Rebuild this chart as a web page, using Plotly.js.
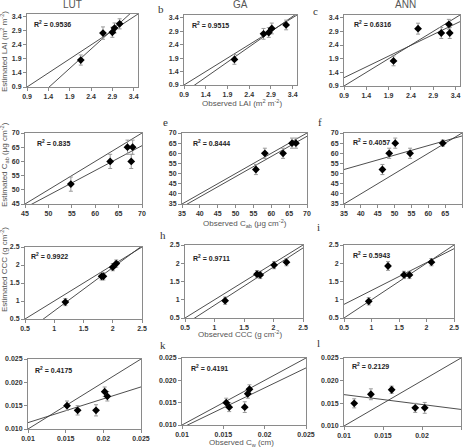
<!DOCTYPE html>
<html>
<head>
<meta charset="utf-8">
<script src="https://cdn.plot.ly/plotly-3.0.1.min.js"></script>
<style>html,body{margin:0;padding:0;background:#fff;}#chart{width:465px;height:447px;}</style>
</head>
<body>
<div id="chart"></div>
<script>
// Observed vs estimated canopy variables for three retrieval methods
const methods = ['LUT', 'GA', 'ANN'];
const rSquared = ['0.9536', '0.9515', '0.6316', '0.835', '0.8444', '0.4057', '0.9922', '0.9711', '0.5943', '0.4175', '0.4191', '0.2129'];

// LAI (m2 m-2)
const lutLaiObs = [2.16, 2.68, 2.90, 2.95, 3.07];
const lutLaiEst = [1.86, 2.82, 2.85, 3.00, 3.15];
const lutLaiErr = [0.18, 0.22, 0.18, 0.18, 0.18];
const gaLaiObs = [2.06, 2.73, 2.85, 2.92, 3.25];
const gaLaiEst = [1.85, 2.80, 2.85, 3.00, 3.13];
const gaLaiErr = [0.18, 0.2, 0.18, 0.2, 0.18];
const annLaiObs = [2.01, 2.56, 3.08, 3.25, 3.27];
const annLaiEst = [1.82, 3.00, 2.84, 3.16, 2.84];
const annLaiErr = [0.18, 0.2, 0.2, 0.18, 0.2];

// Cab (ug cm-2)
const lutCabObs = [54.8, 63.2, 66.9, 68.0, 67.7];
const lutCabEst = [52, 60, 65, 65, 60];
const lutCabErr = [2.5, 2.5, 2.5, 2.5, 2.5];
const gaCabObs = [55.7, 58.2, 63.3, 65.8, 66.9];
const gaCabEst = [52, 60, 60, 65, 65];
const gaCabErr = [2.5, 2.5, 2.5, 2.5, 2.5];
const annCabObs = [46.4, 48.4, 50.2, 54.6, 64.3];
const annCabEst = [52, 60, 65, 60, 65];
const annCabErr = [2.5, 2.5, 2.5, 2.5, 1.5];

// CCC (g cm-2)
const lutCccObs = [1.19, 1.81, 1.84, 2.00, 2.06];
const lutCccEst = [0.97, 1.685, 1.685, 1.94, 2.04];
const lutCccErr = [0.1, 0.1, 0.1, 0.1, 0.1];
const gaCccObs = [1.18, 1.72, 1.775, 2.01, 2.22];
const gaCccEst = [0.975, 1.70, 1.68, 1.95, 2.03];
const gaCccErr = [0.1, 0.1, 0.1, 0.1, 0.1];
const annCccObs = [0.95, 1.30, 1.59, 1.69, 2.09];
const annCccEst = [0.957, 1.925, 1.68, 1.68, 2.03];
const annCccErr = [0.1, 0.12, 0.1, 0.1, 0.1];

// Cw (cm)
const lutCwObs = [0.01518, 0.01659, 0.01903, 0.02018, 0.02053];
const lutCwEst = [0.0150, 0.0140, 0.0140, 0.0180, 0.0170];
const lutCwErr = [0.001, 0.001, 0.0012, 0.001, 0.001];
const gaCwObs = [0.01535, 0.01571, 0.01759, 0.01796, 0.01816];
const gaCwEst = [0.0150, 0.0140, 0.0140, 0.0170, 0.0180];
const gaCwErr = [0.001, 0.001, 0.0012, 0.001, 0.001];
const annCwObs = [0.01131, 0.01345, 0.01611, 0.01913, 0.02035];
const annCwEst = [0.0150, 0.0170, 0.0180, 0.0140, 0.0140];
const annCwErr = [0.001, 0.0012, 0.0008, 0.001, 0.0012];

// tick values / labels per variable row
const laiTicks = [0.9, 1.4, 1.9, 2.4, 2.9, 3.4];
const laiTickText = ['0.9', '1.4', '1.9', '2.4', '2.9', '3.4'];
const cabTicks = [35, 40, 45, 50, 55, 60, 65, 70];
const cabTickText = ['35', '40', '45', '50', '55', '60', '65', '70'];
const cccTicks = [0.5, 1, 1.5, 2, 2.5];
const cccTickText = ['0.5', '1', '1.5', '2', '2.5'];
const cwTicks = [0.01, 0.015, 0.02, 0.025];
const cwXTickText = ['0.01', '0.015', '0.02', '0.025'];
const cwYTickText = ['0.010', '0.015', '0.020', '0.025'];

const W = 465, H = 447;

const panels = [
  {obs: lutLaiObs, est: lutLaiEst, err: lutLaiErr, range: [0.9, 3.5], tv: laiTicks, tt: laiTickText, ytt: laiTickText, box: [27, 138, 14, 87], r2: [0.045, 0.86]},
  {obs: gaLaiObs, est: gaLaiEst, err: gaLaiErr, range: [0.9, 3.5], tv: laiTicks, tt: laiTickText, ytt: laiTickText, box: [184, 297, 15, 85], r2: [0.055, 0.86]},
  {obs: annLaiObs, est: annLaiEst, err: annLaiErr, range: [0.9, 3.5], tv: laiTicks, tt: laiTickText, ytt: laiTickText, box: [344, 460, 15, 86], r2: [0.07, 0.87]},
  {obs: lutCabObs, est: lutCabEst, err: lutCabErr, range: [45, 70], tv: cabTicks, tt: cabTickText, ytt: cabTickText, box: [25, 142, 133, 204], r2: [0.085, 0.86]},
  {obs: gaCabObs, est: gaCabEst, err: gaCabErr, range: [35, 70], tv: cabTicks, tt: cabTickText, ytt: cabTickText, box: [182, 307, 133, 204], r2: [0.07, 0.86]},
  {obs: annCabObs, est: annCabEst, err: annCabErr, range: [35, 70], tv: cabTicks, tt: cabTickText, ytt: cabTickText, box: [344, 462, 133, 204], r2: [0.06, 0.87]},
  {obs: lutCccObs, est: lutCccEst, err: lutCccErr, range: [0.5, 2.5], tv: cccTicks, tt: cccTickText, ytt: cccTickText, box: [25, 142, 247, 319], r2: [0.035, 0.875]},
  {obs: gaCccObs, est: gaCccEst, err: gaCccErr, range: [0.5, 2.5], tv: cccTicks, tt: cccTickText, ytt: cccTickText, box: [185, 303, 245, 318], r2: [0.05, 0.82]},
  {obs: annCccObs, est: annCccEst, err: annCccErr, range: [0.5, 2.5], tv: cccTicks, tt: cccTickText, ytt: cccTickText, box: [344, 454, 245, 318], r2: [0.06, 0.86]},
  {obs: lutCwObs, est: lutCwEst, err: lutCwErr, range: [0.01, 0.025], tv: cwTicks, tt: cwXTickText, ytt: cwYTickText, box: [28, 141, 359, 429], r2: [0.045, 0.84]},
  {obs: gaCwObs, est: gaCwEst, err: gaCwErr, range: [0.01, 0.025], tv: cwTicks, tt: cwXTickText, ytt: cwYTickText, box: [182, 306, 358, 425], r2: [0.056, 0.85]},
  {obs: annCwObs, est: annCwEst, err: annCwErr, range: [0.01, 0.025], tv: cwTicks, tt: cwXTickText, ytt: cwYTickText, box: [344, 461, 358, 426], r2: [0.05, 0.88]}
];

// least-squares fit of estimated on observed
function fit(x, y) {
  const n = x.length;
  const mx = x.reduce((a, b) => a + b, 0) / n;
  const my = y.reduce((a, b) => a + b, 0) / n;
  let sxy = 0, sxx = 0;
  for (let i = 0; i < n; i++) { sxy += (x[i] - mx) * (y[i] - my); sxx += (x[i] - mx) ** 2; }
  const slope = sxy / sxx;
  return {slope: slope, intercept: my - slope * mx};
}

const sans = "'Liberation Sans', Arial, sans-serif";
const traces = [];
const layout = {
  width: W, height: H,
  margin: {l: 0, r: 0, t: 0, b: 0},
  paper_bgcolor: '#fff', plot_bgcolor: '#fff',
  showlegend: false,
  font: {family: sans, color: '#333'},
  annotations: []
};

const lineColor = '#3a3a3a';
const axisCommon = {
  showline: true, mirror: true, linecolor: '#8a8a8a', linewidth: 1,
  ticks: 'outside', ticklen: 3, tickcolor: '#8a8a8a', tickwidth: 1,
  showgrid: false, zeroline: false, fixedrange: true,
  tickfont: {family: sans, size: 7, color: '#333', weight: 'bold'}
};

panels.forEach((p, i) => {
  const k = i === 0 ? '' : String(i + 1);
  const xa = 'x' + k, ya = 'y' + k;
  const [x0, x1, y0, y1] = p.box;
  layout['xaxis' + k] = Object.assign({}, axisCommon, {
    domain: [x0 / W, x1 / W], anchor: ya, range: p.range,
    tickvals: p.tv, ticktext: p.tt
  });
  layout['yaxis' + k] = Object.assign({}, axisCommon, {
    domain: [1 - y1 / H, 1 - y0 / H], anchor: xa, range: p.range,
    tickvals: p.tv, ticktext: p.ytt
  });

  // 1:1 line
  traces.push({x: p.range, y: p.range, xaxis: xa, yaxis: ya, mode: 'lines',
    line: {color: lineColor, width: 0.9}, hoverinfo: 'skip'});
  // regression line
  const f = fit(p.obs, p.est);
  traces.push({x: p.range, y: p.range.map(v => f.intercept + f.slope * v), xaxis: xa, yaxis: ya,
    mode: 'lines', line: {color: lineColor, width: 0.9}, hoverinfo: 'skip'});
  // points with error bars
  traces.push({x: p.obs, y: p.est, xaxis: xa, yaxis: ya, mode: 'markers',
    marker: {symbol: 'diamond', size: 6, color: '#000'},
    error_y: {type: 'data', array: p.err, visible: true, color: '#9a9a9a', thickness: 1, width: 2}});

  layout.annotations.push({
    xref: xa + ' domain', yref: ya + ' domain', x: p.r2[0], y: p.r2[1],
    xanchor: 'left', yanchor: 'middle', showarrow: false,
    text: 'R<sup>2</sup> = ' + rSquared[i],
    font: {family: sans, size: 7, color: '#222', weight: 'bold'}
  });
});

function paperText(text, px, py, opts) {
  layout.annotations.push(Object.assign({
    xref: 'paper', yref: 'paper', x: px / W, y: 1 - py / H,
    xanchor: 'center', yanchor: 'middle', showarrow: false, text: text,
    font: {family: sans, size: 8, color: '#555'}
  }, opts || {}));
}

// column headings
const headFont = {family: sans, size: 10, color: '#555'};
paperText(methods[0], 72, 5, {font: headFont});
paperText(methods[1], 240, 5, {font: headFont});
paperText(methods[2], 405, 5, {font: headFont});

// panel letters
const serif = {family: "'Liberation Serif', 'Times New Roman', serif", size: 11, color: '#333'};
[['b', 161, 9], ['c', 315, 11], ['e', 165, 122], ['f', 320, 122], ['h', 163, 235], ['i', 318, 227], ['k', 163, 345], ['l', 318, 343]]
  .forEach(t => paperText(t[0], t[1], t[2], {font: serif}));

// axis titles
paperText('Observed LAI (m<sup>2</sup> m<sup>-2</sup>)', 242, 103);
paperText('Observed C<sub>ab</sub> (μg cm<sup>-2</sup>)', 245, 223);
paperText('Observed CCC (g cm<sup>-2</sup>)', 240, 334);
paperText('Observed C<sub>w</sub> (cm)', 242, 443);
paperText('Estimated LAI (m<sup>2</sup> m<sup>-2</sup>)', 4, 52, {textangle: -90});
paperText('Estimated C<sub>ab</sub> (μg cm<sup>-2</sup>)', 4, 165, {textangle: -90});
paperText('Estimated CCC (g cm<sup>-2</sup>)', 4, 270, {textangle: -90});

Plotly.newPlot('chart', traces, layout, {displayModeBar: false});
</script>
</body>
</html>
